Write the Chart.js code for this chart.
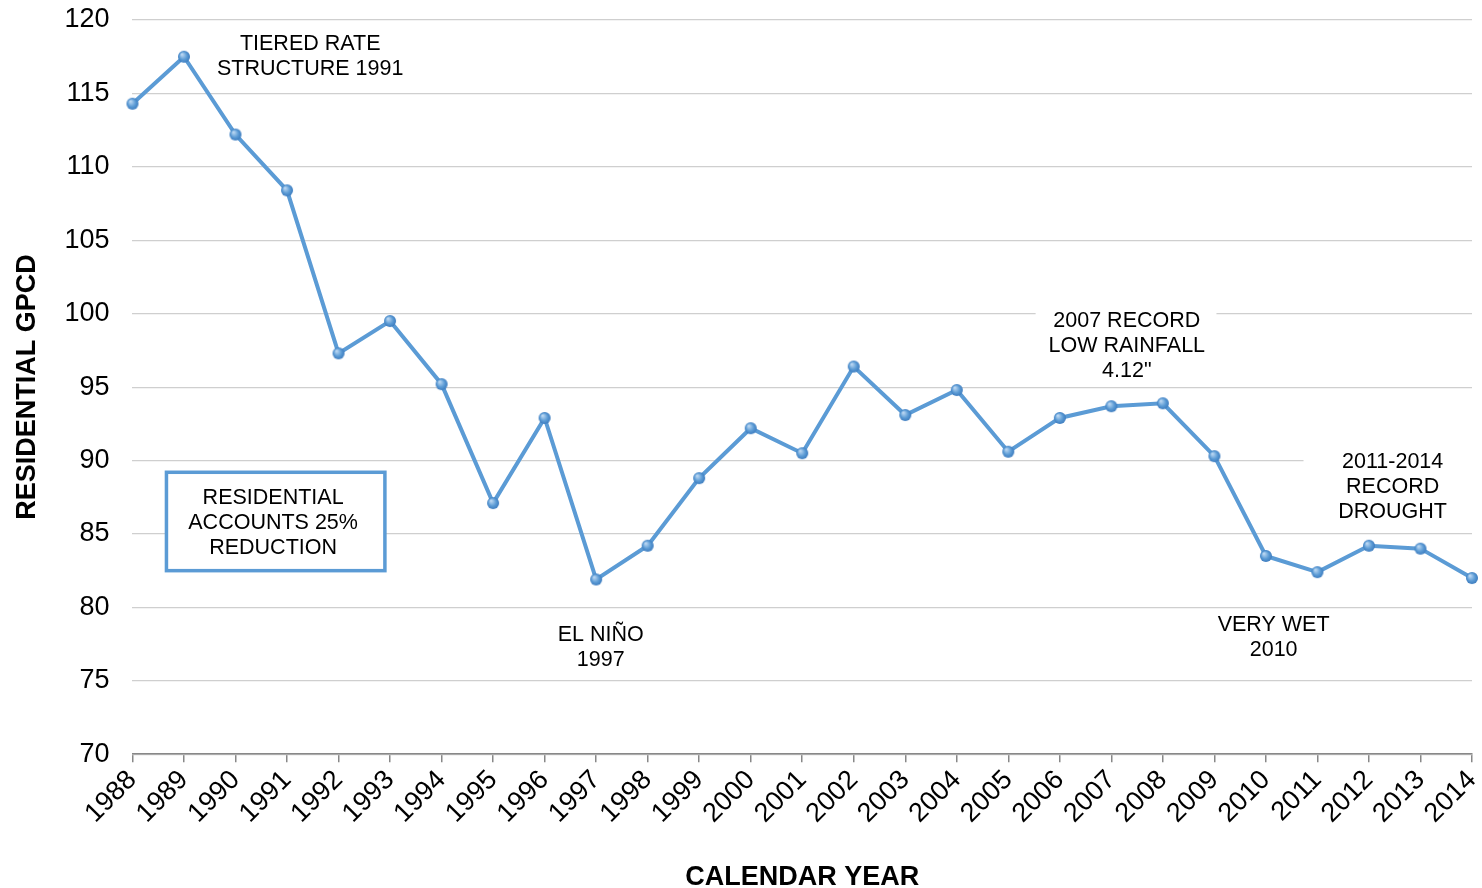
<!DOCTYPE html>
<html><head><meta charset="utf-8">
<script src="https://cdn.jsdelivr.net/npm/chart.js@4/dist/chart.umd.min.js"></script>
<style>html,body{margin:0;padding:0;background:#fff}#wrap{width:1482px;height:888px}</style>
</head><body><div id="wrap"><canvas id="c" width="1482" height="888"></canvas></div>
<script>
const years = ['1988','1989','1990','1991','1992','1993','1994','1995','1996','1997','1998','1999','2000','2001','2002','2003','2004','2005','2006','2007','2008','2009','2010','2011','2012','2013','2014'];
const gpcd = [114.3,117.5,112.2,108.4,97.3,99.5,95.2,87.1,92.9,81.9,84.2,88.8,92.2,90.5,96.4,93.1,94.8,90.6,92.9,93.7,93.9,90.3,83.5,82.4,84.2,84.0,82.0];
const yMin = 70, yMax = 120, yStep = 5;
const xTitle = 'CALENDAR YEAR';
const yTitle = 'RESIDENTIAL GPCD';
// annotations: text lines, anchor (category index, value of first line)
const noteTiered = {lines:['TIERED RATE','STRUCTURE 1991'], x:3.45, y:118.36};
const noteNino = {lines:['EL NIÑO','1997'], x:9.09, y:78.1};
const noteRain = {lines:['2007 RECORD','LOW RAINFALL','4.12"'], x:19.3, y:99.53, bg:[17.53,21.04,100.6,95.3]};
const noteWet = {lines:['VERY WET','2010'], x:22.15, y:78.8};
const noteDrought = {lines:['2011-2014','RECORD','DROUGHT'], x:24.46, y:89.92, bg:[22.73,26.5,90.95,85.6]};
const noteBox = {lines:['RESIDENTIAL','ACCOUNTS 25%','REDUCTION'], x:2.73, y:87.46, box:[0.66,4.9,89.2,82.5]};
const notes = [noteTiered, noteNino, noteRain, noteWet, noteDrought, noteBox];

// sphere-like point image
function sphere(r){
  const c = document.createElement('canvas');
  c.width = c.height = r*2+2;
  const g = c.getContext('2d');
  const grd = g.createRadialGradient(r+1-r*0.35, r+1-r*0.4, r*0.1, r+1, r+1, r);
  grd.addColorStop(0,'#b9d6f2');
  grd.addColorStop(0.6,'#5b9bd5');
  grd.addColorStop(1,'#3d7cbf');
  g.fillStyle = grd;
  g.beginPath(); g.arc(r+1,r+1,r,0,Math.PI*2); g.fill();
  return c;
}
const pt = sphere(6);

const notePlugin = {
  id:'notes',
  beforeDatasetsDraw(chart){
    const {ctx, scales:{x,y}} = chart;
    ctx.save();
    ctx.font = '21.5px "Liberation Sans", Arial, sans-serif';
    ctx.textAlign = 'center';
    ctx.textBaseline = 'middle';
    notes.forEach(n=>{
      if(n.bg){
        const x0=x.getPixelForValue(n.bg[0]), x1=x.getPixelForValue(n.bg[1]);
        const y0=y.getPixelForValue(n.bg[2]), y1=y.getPixelForValue(n.bg[3]);
        ctx.fillStyle='#fff';
        ctx.fillRect(x0,y0,x1-x0,y1-y0);
      }
      if(n.box){
        const x0=x.getPixelForValue(n.box[0]), x1=x.getPixelForValue(n.box[1]);
        const y0=y.getPixelForValue(n.box[2]), y1=y.getPixelForValue(n.box[3]);
        ctx.fillStyle='#fff';
        ctx.fillRect(x0,y0,x1-x0,y1-y0);
        ctx.strokeStyle='#5b9bd5'; ctx.lineWidth=3.5;
        ctx.strokeRect(x0,y0,x1-x0,y1-y0);
      }
      const cx = x.getPixelForValue(n.x);
      const cy = y.getPixelForValue(n.y);
      ctx.fillStyle='#000';
      n.lines.forEach((t,i)=>ctx.fillText(t,cx,cy+i*25));
    });
    ctx.restore();
  }
};

new Chart(document.getElementById('c'),{
  type:'line',
  data:{labels:years, datasets:[{
    data:gpcd,
    borderColor:'#5b9bd5',
    borderWidth:4,
    tension:0,
    pointStyle:pt,
    pointRadius:6,
    pointHoverRadius:6
  }]},
  options:{
    responsive:false,
    animation:false,
    events:[],
    layout:{padding:{top:20,right:8,left:11,bottom:-6}},
    plugins:{legend:{display:false},tooltip:{enabled:false}},
    scales:{
      x:{
        type:'category',
        offset:false,
        afterFit(s){ s.paddingLeft=0; s.paddingRight=0; },
        border:{display:true,color:'#888',width:1.5},
        grid:{display:true,drawOnChartArea:false,drawTicks:true,tickLength:8,color:'#888',lineWidth:1.5},
        ticks:{color:'#000',font:{family:'"Liberation Sans", Arial, sans-serif',size:27},minRotation:45,maxRotation:45,autoSkip:false,padding:2},
        title:{display:true,text:xTitle,color:'#000',font:{family:'"Liberation Sans", Arial, sans-serif',size:27,weight:'bold'},padding:{top:30,bottom:0}}
      },
      y:{
        min:yMin,max:yMax,
        afterFit(s){ s.paddingTop=0; s.paddingBottom=0; },
        border:{display:false},
        grid:{color:'#cfcfcf',lineWidth:1.2,drawTicks:false},
        ticks:{stepSize:yStep,color:'#000',font:{family:'"Liberation Sans", Arial, sans-serif',size:27},padding:23},
        title:{display:true,text:yTitle,color:'#000',font:{family:'"Liberation Sans", Arial, sans-serif',size:27,weight:'bold'},padding:{top:0,bottom:-2}}
      }
    }
  },
  plugins:[notePlugin]
});
</script></body></html>
